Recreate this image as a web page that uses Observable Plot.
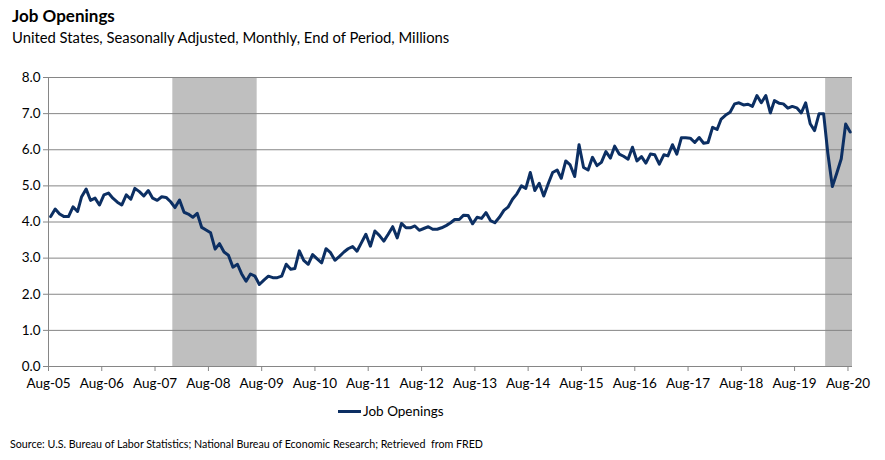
<!DOCTYPE html>
<html>
<head>
<meta charset="utf-8">
<script src="https://cdn.jsdelivr.net/npm/d3@7"></script>
<script src="https://cdn.jsdelivr.net/npm/@observablehq/plot@0.6"></script>
<style>
  body { margin: 0; background: #fff; font-family: Lato, "Open Sans", sans-serif; color: #000; }
  #wrap { position: relative; width: 885px; height: 460px; overflow: hidden; }
  #title { position: absolute; left: 12px; top: 5px; font-weight: bold; font-size: 17px; }
  #subtitle { position: absolute; left: 12px; top: 28px; font-size: 14.8px; }
  #chart { position: absolute; left: 0; top: 55px; }
  #legend { position: absolute; left: 338px; top: 403px; font-size: 13.5px; display: flex; align-items: center; }
  #legend .sw { width: 23px; height: 3px; background: #0c2f63; margin-right: 2px; }
  #source { position: absolute; left: 10px; top: 437px; font-size: 10.7px; }
</style>
</head>
<body>
<div id="wrap">
  <div id="title">Job Openings</div>
  <div id="subtitle">United States, Seasonally Adjusted, Monthly, End of Period, Millions</div>
  <div id="chart"></div>
  <div id="legend"><span class="sw"></span><span>Job Openings</span></div>
  <div id="source">Source: U.S. Bureau of Labor Statistics; National Bureau of Economic Research; Retrieved&nbsp; from FRED</div>
</div>
<script>
// Monthly job openings (millions), first value = Aug 2005, last = Aug 2020
const startMonth = "2005-08";
const openings = [
  4.15, 4.36, 4.22, 4.15, 4.15,
  4.42, 4.29, 4.70, 4.91, 4.60, 4.66, 4.47, 4.75, 4.80, 4.66, 4.55, 4.47,
  4.75, 4.63, 4.93, 4.84, 4.72, 4.87, 4.66, 4.60, 4.70, 4.68, 4.56, 4.40,
  4.61, 4.27, 4.22, 4.13, 4.24, 3.85, 3.78, 3.70, 3.25, 3.40, 3.17, 3.08,
  2.75, 2.83, 2.57, 2.36, 2.56, 2.50, 2.27, 2.39, 2.50, 2.46, 2.46, 2.50,
  2.83, 2.69, 2.71, 3.20, 2.94, 2.83, 3.10, 2.98, 2.87, 3.26, 3.15, 2.94,
  3.05, 3.17, 3.26, 3.32, 3.19, 3.43, 3.66, 3.33, 3.75, 3.63, 3.47, 3.66,
  3.87, 3.56, 3.96, 3.84, 3.84, 3.89, 3.77, 3.82, 3.87, 3.80, 3.80, 3.84,
  3.90, 3.98, 4.07, 4.07, 4.19, 4.18, 3.95, 4.13, 4.10, 4.26, 4.04, 3.98,
  4.13, 4.32, 4.41, 4.63, 4.78, 5.00, 4.93, 5.37, 4.87, 5.07, 4.72, 5.05,
  5.37, 5.44, 5.21, 5.69, 5.58, 5.26, 6.14, 5.51, 5.44, 5.79, 5.56, 5.65,
  5.95, 5.77, 6.10, 5.88, 5.82, 5.74, 6.07, 5.69, 5.81, 5.63, 5.88, 5.86,
  5.60, 5.86, 5.83, 6.14, 5.88, 6.33, 6.33, 6.32, 6.20, 6.34, 6.18, 6.20,
  6.62, 6.56, 6.85, 6.96, 7.04, 7.27, 7.30, 7.24, 7.26, 7.20, 7.50, 7.30,
  7.50, 7.02, 7.36, 7.29, 7.27, 7.15, 7.20, 7.16, 7.02, 7.30, 6.72, 6.53,
  7.00, 7.00, 5.90, 4.98, 5.35, 5.75, 6.71, 6.49
];
// Recession periods (NBER), month starts; end is exclusive
const recessionStarts = ["2007-12", "2020-03"];
const recessionEnds   = ["2009-07", "2020-09"];
const yTicks = [0, 1, 2, 3, 4, 5, 6, 7, 8];
const tickYears = d3.range(2005, 2021);

const parseM = d3.utcParse("%Y-%m");
const start = parseM(startMonth);
const data = openings.map((v, i) => ({
  date: d3.utcDay.offset(d3.utcMonth.offset(start, i), 15),
  value: v
}));
const recessions = recessionStarts.map((s, i) => ({ start: parseM(s), end: parseM(recessionEnds[i]) }));
const xTicks = tickYears.map(y => new Date(Date.UTC(y, 7, 1)));
const xDomain = [start, d3.utcMonth.offset(start, openings.length)];
const yDomain = [yTicks[0], yTicks[yTicks.length - 1]];

const chart = Plot.plot({
  width: 885,
  height: 346,
  marginTop: 22,
  marginBottom: 35,
  marginLeft: 48,
  marginRight: 33,
  style: { fontFamily: "Lato, 'Open Sans', sans-serif", fontSize: "13.5px", color: "#000", background: "transparent" },
  x: { type: "utc", domain: xDomain, label: null },
  y: { domain: yDomain, label: null },
  marks: [
    Plot.rect(recessions, { x1: "start", x2: "end", fill: "#bfbfbf" }),
    Plot.gridY(yTicks, { stroke: "#868686", strokeOpacity: 1, strokeWidth: 1 }),
    Plot.ruleX([xDomain[0]], { stroke: "#868686", strokeWidth: 1 }),
    Plot.axisY(yTicks, { label: null, tickFormat: d3.format(".1f"), tickSize: 5, tickPadding: 3, stroke: "#868686", fill: "#000", fontSize: 13.5 }),
    Plot.axisX(xTicks, { label: null, tickFormat: d3.utcFormat("%b-%y"), tickSize: 5, tickPadding: 7, stroke: "#868686", fill: "#000", fontSize: 13.5 }),
    Plot.lineY(data, { x: "date", y: "value", stroke: "#0c2f63", strokeWidth: 3, strokeLinejoin: "round" })
  ]
});
document.getElementById("chart").appendChild(chart);
</script>
</body>
</html>
